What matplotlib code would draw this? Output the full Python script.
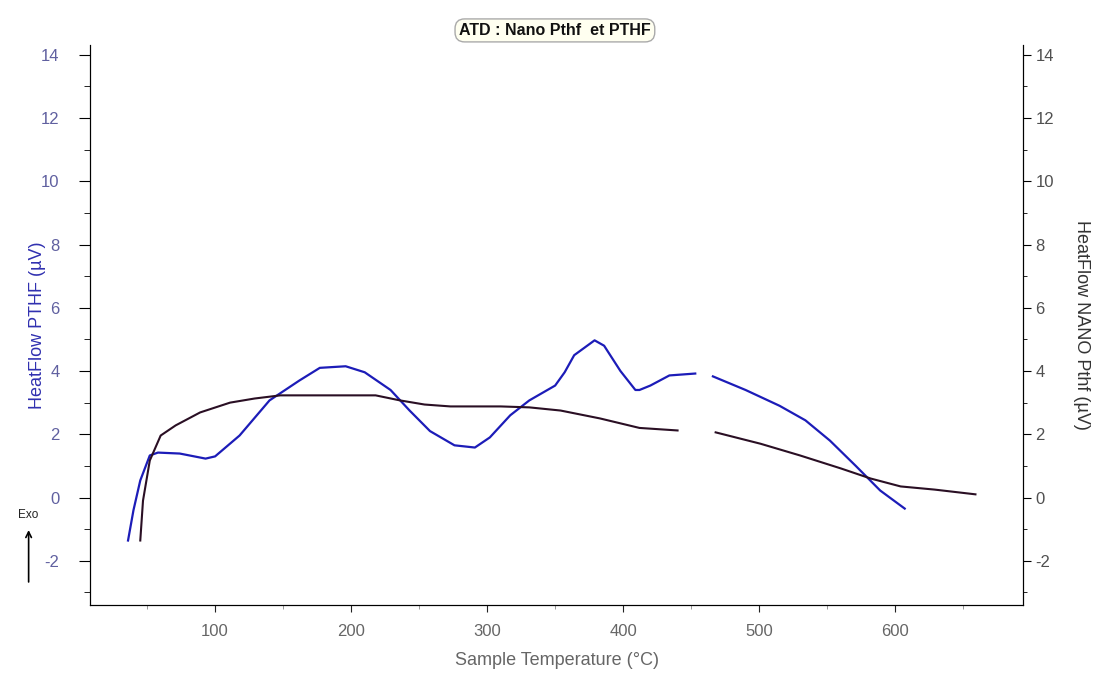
import matplotlib
matplotlib.use("Agg")
import matplotlib.pyplot as plt
import numpy as np

plt.rcParams["font.family"] = ["Liberation Sans", "DejaVu Sans"]
plt.rcParams["axes.unicode_minus"] = False

# PTHF (left axis), NaN marks the gap in the trace
pthf_temp = [36, 40, 45, 52, 58, 74, 93, 100, 118, 140, 162, 177, 196, 210, 229,
             243, 258, 276, 291, 302, 317, 331, 350, 357, 364, 379, 386, 398, 409,
             412, 420, 434, 453, 458, 466, 490, 515, 534, 552, 571, 589, 607]
pthf_flow = [-1.36, -0.4, 0.54, 1.33, 1.42, 1.39, 1.23, 1.3, 1.96, 3.07, 3.7, 4.1,
             4.15, 3.96, 3.4, 2.75, 2.1, 1.65, 1.58, 1.9, 2.6, 3.07, 3.54, 3.96,
             4.5, 4.97, 4.8, 4.0, 3.4, 3.4, 3.54, 3.86, 3.92, np.nan, 3.83, 3.4,
             2.9, 2.44, 1.8, 1.0, 0.22, -0.35]

# Nano Pthf (right axis)
nano_temp = [45, 47, 52, 60, 71, 89, 111, 129, 148, 162, 218, 236, 254, 273, 310,
             331, 354, 383, 412, 440, 454, 468, 501, 530, 560, 582, 604, 629, 659]
nano_flow = [-1.36, -0.1, 1.17, 1.96, 2.28, 2.69, 3.0, 3.13, 3.23, 3.23, 3.23,
             3.07, 2.94, 2.88, 2.88, 2.85, 2.75, 2.5, 2.2, 2.12, np.nan, 2.06,
             1.7, 1.33, 0.92, 0.6, 0.35, 0.25, 0.1]

y_ticks = [-2, 0, 2, 4, 6, 8, 10, 12, 14]
x_ticks = [100, 200, 300, 400, 500, 600]

fig = plt.figure(figsize=(11.01, 6.76), dpi=100)
ax = fig.add_axes([0.0817, 0.105, 0.8475, 0.828])
ax2 = ax.twinx()

ax.plot(pthf_temp, pthf_flow, color="#1c1cb8", lw=1.6)
ax2.plot(nano_temp, nano_flow, color="#2a0f24", lw=1.5)

for a in (ax, ax2):
    a.set_xlim(8, 694)
    a.set_ylim(-3.4, 14.3)
    a.set_yticks(y_ticks)
    a.set_yticks(np.arange(-3, 14.5, 1), minor=True)
    a.spines["top"].set_visible(False)

ax.set_xticks(x_ticks)
ax.set_xticks(np.arange(50, 694, 50), minor=True)
ax.tick_params(axis="x", colors="#222222", labelcolor="#666666", labelsize=12,
               length=5, pad=9)
ax.tick_params(axis="x", which="minor", length=3, colors="#888888")
ax.tick_params(axis="y", labelcolor="#6060a0", labelsize=12, length=8, pad=14)
ax.tick_params(axis="y", which="minor", length=4)
ax2.tick_params(axis="y", labelcolor="#505050", labelsize=12, length=6, pad=3)
ax2.tick_params(axis="y", which="minor", length=3)

ax.set_xlabel("Sample Temperature (°C)", fontsize=13, color="#666666", labelpad=9)
ax.set_ylabel("HeatFlow PTHF (µV)", fontsize=13, color="#3030b0", labelpad=-4)
ax2.set_ylabel("HeatFlow NANO Pthf (µV)", fontsize=13, color="#333333",
               rotation=270, labelpad=26)

fig.text(0.504, 0.955, "ATD : Nano Pthf  et PTHF", ha="center", va="center",
         fontsize=11.5, fontweight="bold", color="#111111",
         bbox=dict(boxstyle="round,pad=0.25,rounding_size=0.6", fc="#fffff0",
                   ec="#aaaaaa", lw=1))

# Exo arrow
fig.text(0.026, 0.238, "Exo", ha="center", va="center", fontsize=8.5, color="#222222")
ax.annotate("", xy=(0.026, 0.22), xytext=(0.026, 0.135), xycoords="figure fraction",
            arrowprops=dict(arrowstyle="->", color="black", lw=1.2))

fig.savefig("out.png", dpi=100)
plt.close()
